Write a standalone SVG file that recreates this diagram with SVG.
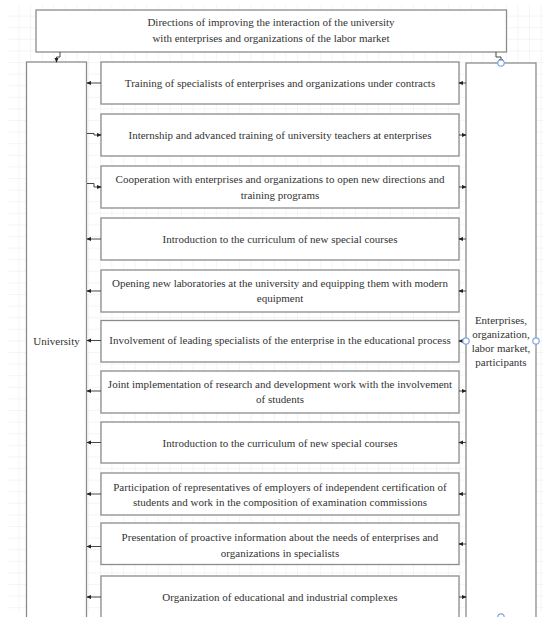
<svg xmlns="http://www.w3.org/2000/svg" width="543" height="617" viewBox="0 0 543 617">
<defs>
<pattern id="grid" x="8" y="5" width="11.6" height="11.6" patternUnits="userSpaceOnUse">
<path d="M11.6 0V11.6M0 11.6H11.6" fill="none" stroke="#ebebeb" stroke-width="1"/>
</pattern>
<marker id="ah" viewBox="0 0 8 8" refX="7" refY="4" markerWidth="5" markerHeight="5" orient="auto" markerUnits="userSpaceOnUse">
<path d="M0 0.5L8 4L0 7.5Z" fill="#222"/>
</marker>
<style>
.box{fill:#fff;stroke:#8c8c8c;stroke-width:1.3}
.t{font-family:"Liberation Serif","Times New Roman",serif;font-size:11px;fill:#333;text-anchor:middle}
.c{fill:none;stroke:#333;stroke-width:0.9;marker-end:url(#ah)}
.pt{fill:#fff;stroke:#7ea6e0;stroke-width:1.2}
</style>
</defs>
<rect x="0" y="0" width="543" height="617" fill="#fff"/>
<rect x="8" y="5" width="535" height="607" fill="url(#grid)"/>

<g id="top">
<rect class="box" x="36" y="10" width="470.5" height="42"/>
<text class="t" x="271" y="26">Directions of improving the interaction of the university</text>
<text class="t" x="271" y="42">with enterprises and organizations of the labor market</text>
</g>

<g id="university">
<rect class="box" x="26.5" y="62" width="60" height="570"/>
<text class="t" x="56.5" y="345">University</text>
</g>

<g id="enterprises">
<rect class="box" x="466" y="63" width="70" height="570"/>
<text class="t" x="501" y="324">Enterprises,</text>
<text class="t" x="501" y="338">organization,</text>
<text class="t" x="501" y="352">labor market,</text>
<text class="t" x="501" y="366">participants</text>
</g>

<g id="n1">
<rect class="box" x="101" y="62" width="358" height="42"/>
<text class="t" x="280" y="87">Training of specialists of enterprises and organizations under contracts</text>
</g>
<g id="n2">
<rect class="box" x="101" y="114" width="358" height="42"/>
<text class="t" x="280" y="139">Internship and advanced training of university teachers at enterprises</text>
</g>
<g id="n3">
<rect class="box" x="101" y="166" width="358" height="42"/>
<text class="t" x="280" y="183">Cooperation with enterprises and organizations to open new directions and</text>
<text class="t" x="280" y="199">training programs</text>
</g>
<g id="n4">
<rect class="box" x="101" y="218" width="358" height="42"/>
<text class="t" x="280" y="243">Introduction to the curriculum of new special courses</text>
</g>
<g id="n5">
<rect class="box" x="101" y="270" width="358" height="42"/>
<text class="t" x="280" y="287">Opening new laboratories at the university and equipping them with modern</text>
<text class="t" x="280" y="302">equipment</text>
</g>
<g id="n6">
<rect class="box" x="101" y="320.5" width="358" height="41.5"/>
<text class="t" x="280" y="344">Involvement of leading specialists of the enterprise in the educational process</text>
</g>
<g id="n7">
<rect class="box" x="101" y="371" width="358" height="42"/>
<text class="t" x="280" y="388">Joint implementation of research and development work with the involvement</text>
<text class="t" x="280" y="403">of students</text>
</g>
<g id="n8">
<rect class="box" x="101" y="422" width="358" height="41"/>
<text class="t" x="280" y="447">Introduction to the curriculum of new special courses</text>
</g>
<g id="n9">
<rect class="box" x="101" y="473" width="358" height="42"/>
<text class="t" x="280" y="491">Participation of representatives of employers of independent certification of</text>
<text class="t" x="280" y="506">students and work in the composition of examination commissions</text>
</g>
<g id="n10">
<rect class="box" x="101" y="523" width="358" height="41.5"/>
<text class="t" x="280" y="541">Presentation of proactive information about the needs of enterprises and</text>
<text class="t" x="280" y="557">organizations in specialists</text>
</g>
<g id="n11">
<rect class="box" x="101" y="576" width="358" height="50"/>
<text class="t" x="280" y="601">Organization of educational and industrial complexes</text>
</g>

<g id="connectors">
<path class="c" d="M60 52V57H56.5V62"/>
<path class="c" d="M496 52V57H501V63"/>
<path class="c" d="M101 83H87"/>
<path class="c" d="M87 133.5H94V135H101"/>
<path class="c" d="M87 183.5H94V187H101"/>
<path class="c" d="M101 239H87"/>
<path class="c" d="M101 291H87"/>
<path class="c" d="M101 340.5H87"/>
<path class="c" d="M101 391H87"/>
<path class="c" d="M101 442.5H87"/>
<path class="c" d="M101 494H87"/>
<path class="c" d="M101 546.5H87"/>
<path class="c" d="M101 597H87"/>
<path class="c" d="M466 83H459"/>
<path class="c" d="M459 135H466"/>
<path class="c" d="M459 187H466"/>
<path class="c" d="M466 239H459"/>
<path class="c" d="M466 291H459"/>
<path class="c" d="M466 341H459"/>
<path class="c" d="M459 391H466"/>
<path class="c" d="M466 442.5H459"/>
<path class="c" d="M466 494H459"/>
<path class="c" d="M466 544H459"/>
<path class="c" d="M459 597H466"/>
<circle class="pt" cx="501" cy="63" r="3.2"/>
<circle class="pt" cx="466" cy="341" r="3.2"/>
<circle class="pt" cx="536" cy="341" r="3.2"/>
<circle class="pt" cx="501" cy="617" r="3.2"/>
</g>
</svg>
